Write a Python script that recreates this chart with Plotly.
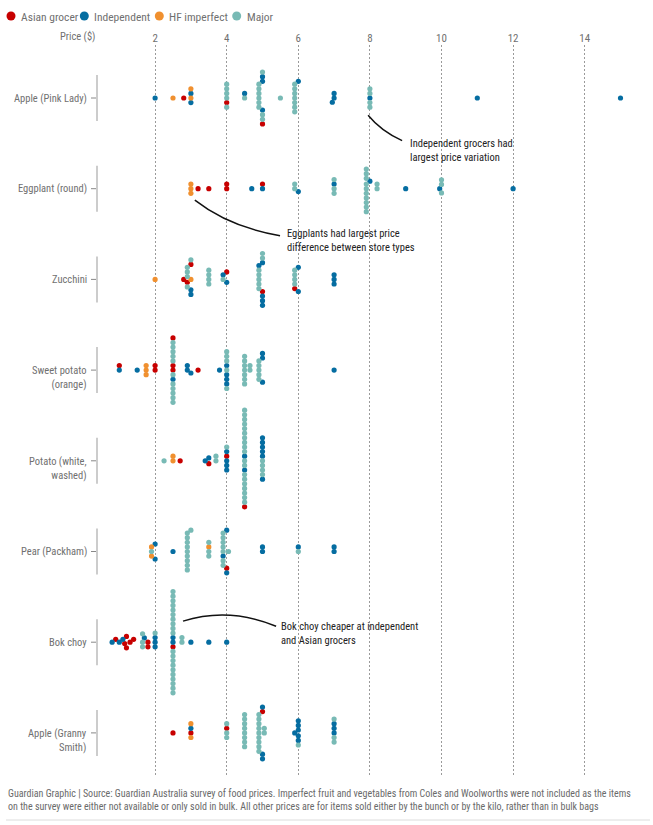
import math
import plotly.graph_objects as go

# ---------------- data ----------------
CATEGORIES = ["Apple (Pink Lady)", "Eggplant (round)", "Zucchini", "Sweet potato<br>(orange)",
              "Potato (white,<br>washed)", "Pear (Packham)", "Bok choy", "Apple (Granny<br>Smith)"]
STORE_TYPES = ["Asian grocer", "Independent", "HF imperfect", "Major"]
STORE_CODES = ["A", "I", "H", "M"]
COLORS = ["#c70000", "#056da1", "#f0902f", "#78bab5"]
TICKS = [2, 4, 6, 8, 10, 12, 14]

PINK_LADY = [("I", 2.0), ("H", 2.5), ("A", 2.8), ("H", 3.0), ("I", 3.0), ("I", 3.0), ("H", 3.0),
             ("M", 4.0), ("M", 4.0), ("A", 4.0), ("M", 4.0), ("M", 4.0), ("M", 4.0),
             ("M", 4.5), ("I", 4.5),
             ("M", 4.9), ("M", 4.9), ("M", 4.9), ("M", 4.9), ("M", 4.9), ("M", 4.9),
             ("I", 5.0), ("I", 5.0), ("M", 5.0), ("I", 5.0), ("M", 5.0), ("M", 5.0), ("A", 5.0),
             ("M", 5.5),
             ("M", 5.9), ("M", 5.9), ("M", 5.9), ("M", 5.9), ("M", 5.9), ("M", 5.9), ("M", 5.9), ("I", 6.0),
             ("I", 7.0), ("I", 7.0), ("I", 6.95),
             ("I", 8.0), ("M", 8.0), ("M", 8.0), ("M", 8.0), ("M", 8.0),
             ("I", 11.0), ("I", 15.0)]

EGGPLANT = [("H", 3.0), ("H", 3.0), ("H", 3.0), ("A", 3.2), ("A", 3.5), ("A", 4.0), ("A", 4.0),
            ("I", 4.7), ("I", 5.0), ("A", 5.0),
            ("M", 5.9), ("M", 5.9), ("I", 6.0),
            ("M", 7.0), ("I", 7.0), ("M", 7.0), ("M", 7.0),
            ("M", 7.9), ("M", 7.9), ("M", 7.9), ("I", 8.0), ("M", 7.9), ("M", 7.9), ("M", 7.9),
            ("M", 7.9), ("M", 7.9), ("M", 7.9), ("M", 7.9), ("M", 8.2), ("M", 8.2),
            ("I", 9.0),
            ("I", 9.95), ("M", 10.0), ("M", 10.0), ("M", 10.0),
            ("I", 12.0)]

ZUCCHINI = [("H", 2.0), ("A", 2.8),
            ("M", 2.9), ("A", 2.9), ("M", 2.9), ("M", 2.9), ("M", 2.9),
            ("H", 3.0), ("I", 3.0), ("A", 3.0), ("I", 3.0), ("M", 3.0),
            ("M", 3.5), ("M", 3.5), ("M", 3.5), ("M", 3.5),
            ("M", 3.9), ("I", 3.9), ("I", 4.0), ("A", 4.0),
            ("M", 4.9), ("M", 4.9), ("M", 4.9), ("M", 4.9), ("M", 4.9), ("I", 4.9),
            ("A", 5.0), ("I", 5.0), ("I", 5.0), ("M", 5.0), ("I", 5.0), ("M", 5.0), ("I", 5.0),
            ("M", 5.9), ("M", 5.9), ("M", 5.9), ("M", 5.9), ("A", 5.9),
            ("I", 6.0), ("I", 6.0),
            ("I", 7.0), ("I", 7.0), ("I", 7.0)]

SWEET_POTATO = [("I", 1.0), ("A", 1.0), ("I", 1.5), ("H", 1.75), ("H", 1.75), ("H", 1.75),
                ("A", 2.0), ("A", 2.0),
                ("A", 2.5), ("A", 2.5), ("M", 2.5), ("M", 2.5), ("I", 2.5), ("M", 2.5), ("M", 2.5),
                ("M", 2.5), ("M", 2.5), ("M", 2.5), ("M", 2.5), ("M", 2.5), ("M", 2.5), ("A", 2.5), ("M", 2.5),
                ("I", 2.9), ("I", 2.9), ("I", 3.0), ("A", 3.2), ("I", 3.8),
                ("M", 4.0), ("I", 4.0), ("I", 4.0), ("M", 4.0), ("I", 4.0), ("M", 4.0), ("I", 4.0),
                ("M", 4.0), ("M", 4.0),
                ("M", 4.5), ("M", 4.5), ("M", 4.5), ("M", 4.5), ("M", 4.5), ("M", 4.5), ("M", 4.5),
                ("M", 4.65), ("M", 4.65),
                ("M", 4.9), ("M", 4.9), ("M", 4.9), ("M", 4.9), ("M", 4.9),
                ("I", 5.0), ("I", 5.0), ("I", 5.0),
                ("I", 7.0)]

POTATO = [("M", 2.25), ("H", 2.5), ("H", 2.5), ("A", 2.7), ("I", 3.4), ("I", 3.5), ("A", 3.5),
          ("M", 3.7), ("M", 3.7),
          ("I", 4.0), ("A", 4.0), ("I", 4.0), ("I", 4.0), ("I", 4.0), ("M", 4.0),
          ("M", 4.5), ("I", 4.5), ("M", 4.5), ("M", 4.5), ("I", 4.5), ("M", 4.5), ("M", 4.5),
          ("M", 4.5), ("M", 4.5), ("M", 4.5), ("M", 4.5), ("M", 4.5), ("M", 4.5), ("M", 4.5),
          ("M", 4.5), ("M", 4.5), ("M", 4.5), ("M", 4.5), ("M", 4.5), ("M", 4.5), ("A", 4.5), ("M", 4.5),
          ("M", 5.0), ("I", 5.0), ("M", 5.0), ("I", 5.0), ("M", 5.0), ("I", 5.0), ("M", 5.0),
          ("I", 5.0), ("I", 5.0), ("I", 5.0)]

PEAR = [("M", 1.9), ("H", 1.9), ("H", 1.9), ("I", 2.0), ("I", 2.0), ("I", 2.5),
        ("M", 2.9), ("M", 2.9), ("M", 2.9), ("M", 2.9), ("M", 2.9), ("M", 2.9), ("M", 2.9),
        ("M", 2.9), ("M", 2.9), ("M", 3.0),
        ("M", 3.5), ("H", 3.5), ("M", 3.5), ("M", 3.5),
        ("M", 3.9), ("M", 3.9), ("I", 3.9), ("M", 3.9), ("M", 3.9), ("M", 3.9), ("M", 3.9), ("M", 3.9),
        ("A", 4.0), ("I", 4.0), ("I", 4.0), ("M", 4.05),
        ("I", 5.0), ("I", 5.0), ("M", 6.0), ("I", 6.0), ("I", 7.0), ("I", 7.0)]

BOK_CHOY = [("I", 0.8), ("A", 0.9), ("I", 1.0), ("I", 1.1), ("A", 1.15), ("A", 1.2), ("A", 1.2),
            ("A", 1.3), ("A", 1.4),
            ("M", 1.65), ("I", 1.7), ("M", 1.65), ("M", 1.65), ("A", 1.8), ("A", 1.8),
            ("I", 2.0), ("I", 2.0), ("I", 2.0), ("M", 2.0),
            ("I", 2.5), ("I", 2.5), ("A", 2.5), ("M", 2.5), ("M", 2.5), ("M", 2.5), ("M", 2.5),
            ("M", 2.5), ("M", 2.5), ("M", 2.5), ("M", 2.5), ("M", 2.5), ("M", 2.5), ("M", 2.5),
            ("M", 2.5), ("M", 2.5), ("M", 2.5), ("M", 2.5), ("M", 2.5), ("M", 2.5), ("M", 2.5),
            ("M", 2.5), ("M", 2.5),
            ("M", 2.75), ("M", 2.75), ("I", 3.0), ("I", 3.5), ("I", 4.0)]

GRANNY_SMITH = [("A", 2.5), ("A", 3.0), ("I", 3.0), ("H", 3.0), ("H", 3.0),
                ("M", 4.0), ("A", 4.0), ("M", 4.0), ("M", 4.0),
                ("M", 4.5), ("M", 4.5), ("M", 4.5), ("M", 4.5), ("M", 4.5), ("M", 4.5), ("M", 4.5), ("M", 4.5),
                ("M", 4.9), ("M", 4.9), ("M", 4.9), ("M", 4.9), ("M", 4.9), ("M", 4.9), ("M", 4.9),
                ("M", 4.9), ("M", 4.9),
                ("A", 5.0), ("I", 5.0), ("M", 5.05), ("I", 5.0), ("M", 5.05), ("I", 5.0),
                ("I", 5.9), ("I", 6.0), ("I", 6.0), ("I", 6.0), ("I", 6.0), ("I", 6.0), ("M", 6.0),
                ("I", 7.0), ("I", 7.0), ("M", 7.0), ("I", 7.0), ("M", 7.0), ("M", 7.0)]

ROWS = [PINK_LADY, EGGPLANT, ZUCCHINI, SWEET_POTATO, POTATO, PEAR, BOK_CHOY, GRANNY_SMITH]

NOTES = ["Independent grocers had<br>largest price variation",
         "Eggplants had largest price<br>difference between store types",
         "Bok choy cheaper at independent<br>and Asian grocers"]
FOOTER = ("Guardian Graphic | Source: Guardian Australia survey of food prices. Imperfect fruit and "
          "vegetables from Coles and Woolworths were not included as the items<br>on the survey were "
          "either not available or only sold in bulk. All other prices are for items sold either by the "
          "bunch or by the kilo, rather than in bulk bags")

# ---------------- layout geometry ----------------
W, H = 653, 825
L, R, T, B = 100, 640, 45, 777
X0 = 83.5            # pixel of price 0
SX = 35.8            # px per $
SY = 90.7            # px per row
XR = [(L - X0) / SX, (R - X0) / SX]
YR = [-(B - 98) / SY, (98 - T) / SY]   # row i at y = -i
D = 4.6              # dot spacing in px
FONT = ("Roboto Condensed, DejaVu Sans Condensed, Open Sans Condensed, Liberation Sans Narrow, "
        "Arial Narrow, Roboto, sans-serif")
GREY = "#707070"


def pxx(p):
    return (p - L) / (R - L)


def pxy(p):
    return (B - p) / (B - T)


def swarm(xs):
    placed = []
    offs = []
    for x in xs:
        xp = x * SX
        near = [(qx, qy) for qx, qy in placed if abs(qx - xp) < D]
        cands = [0.0]
        for qx, qy in near:
            dy = math.sqrt(max(D * D - (qx - xp) ** 2, 0))
            cands += [qy + dy, qy - dy]
        cands.sort(key=lambda c: (round(abs(c), 6), -c))
        chosen = 0.0
        for c in cands:
            if all((qx - xp) ** 2 + (qy - c) ** 2 >= D * D - 1e-6 for qx, qy in near):
                chosen = c
                break
        placed.append((xp, chosen))
        offs.append(chosen)
    return offs


pts = {c: ([], []) for c in STORE_CODES}
for i, row in enumerate(ROWS):
    offs = swarm([p for _, p in row])
    for (code, price), o in zip(row, offs):
        pts[code][0].append(price)
        pts[code][1].append(-i + o / SY)

fig = go.Figure()
for code, name, col in zip(STORE_CODES, STORE_TYPES, COLORS):
    fig.add_trace(go.Scatter(x=pts[code][0], y=pts[code][1], mode="markers", name=name,
                             showlegend=False, hoverinfo="x",
                             marker=dict(size=5.2, color=col, line=dict(width=0))))

shapes = []
annotations = []

# legend
leg_dot = [11, 84.3, 159.3, 236.7]
for xd, name, col in zip(leg_dot, STORE_TYPES, COLORS):
    shapes.append(dict(type="circle", xref="paper", yref="paper", xsizemode="pixel", ysizemode="pixel",
                       xanchor=pxx(xd), yanchor=pxy(16), x0=-4.5, x1=4.5, y0=-4.5, y1=4.5,
                       fillcolor=col, line=dict(width=0)))
    annotations.append(dict(text=name, xref="paper", yref="paper", x=pxx(xd + 8), y=pxy(16.5),
                            xanchor="left", yanchor="middle", showarrow=False,
                            font=dict(family=FONT, size=11.5, color=GREY)))

annotations.append(dict(text="Price ($)", xref="paper", yref="paper", x=pxx(97), y=pxy(37),
                        xanchor="right", yanchor="middle", showarrow=False,
                        font=dict(family=FONT, size=10.5, color=GREY)))

# category labels + axis brackets
for i, cat in enumerate(CATEGORIES):
    two = "<br>" in cat
    annotations.append(dict(text=cat, xref="paper", yref="y", x=pxx(89), y=-i,
                            xanchor="right", yanchor="top" if two else "middle",
                            yshift=8 if two else 0, align="right", showarrow=False,
                            font=dict(family=FONT, size=10.5, color=GREY)))
    shapes.append(dict(type="line", xref="paper", yref="y", x0=pxx(97), x1=pxx(97),
                       y0=-i - 23 / SY, y1=-i + 23 / SY, line=dict(color="#aaaaaa", width=1.2)))
    shapes.append(dict(type="line", xref="paper", yref="y", x0=pxx(91), x1=pxx(96),
                       y0=-i, y1=-i, line=dict(color="#888888", width=1)))

# annotation leader lines (data coords)
curves = [((7.95, -0.19), (8.31, -0.364), (8.9, -0.47)),
          ((3.11, -1.125), (4.07, -1.421), (5.49, -1.518)),
          ((2.78, -5.768), (4.05, -5.609), (5.38, -5.824))]
for (a, c, b) in curves:
    shapes.append(dict(type="path", xref="x", yref="y",
                       path=f"M {a[0]},{a[1]} Q {c[0]},{c[1]} {b[0]},{b[1]}",
                       line=dict(color="#111111", width=1.5)))
note_pos = [(9.06, -0.575), (5.63, -1.568), (5.46, -5.906)]
for txt, (nx, ny) in zip(NOTES, note_pos):
    annotations.append(dict(text=txt, xref="x", yref="y", x=nx, y=ny, xanchor="left", yanchor="middle",
                            align="left", showarrow=False,
                            font=dict(family=FONT, size=10.5, color="#222222")))

# footer
annotations.append(dict(text=FOOTER, xref="paper", yref="paper", x=pxx(6), y=pxy(786),
                        xanchor="left", yanchor="top", align="left", showarrow=False,
                        font=dict(family=FONT, size=10, color="#6a6a6a")))
shapes.append(dict(type="line", xref="paper", yref="paper", x0=pxx(6), x1=pxx(650),
                   y0=pxy(820), y1=pxy(820), line=dict(color="#dcdcdc", width=1)))

fig.update_layout(
    width=W, height=H, margin=dict(l=L, r=W - R, t=T, b=H - B),
    paper_bgcolor="white", plot_bgcolor="white",
    shapes=shapes, annotations=annotations, showlegend=False,
    xaxis=dict(range=XR, side="top", tickvals=TICKS, ticktext=[str(t) for t in TICKS],
               showgrid=True, gridcolor="#9a9a9a", griddash="2px,2px", gridwidth=1,
               zeroline=False, showline=False, ticks="",
               tickfont=dict(family=FONT, size=11, color=GREY)),
    yaxis=dict(range=YR, showgrid=False, zeroline=False, showticklabels=False, showline=False),
)

fig.write_html("out.html", config={"displayModeBar": False},
               post_script="document.body.style.margin='0';")
